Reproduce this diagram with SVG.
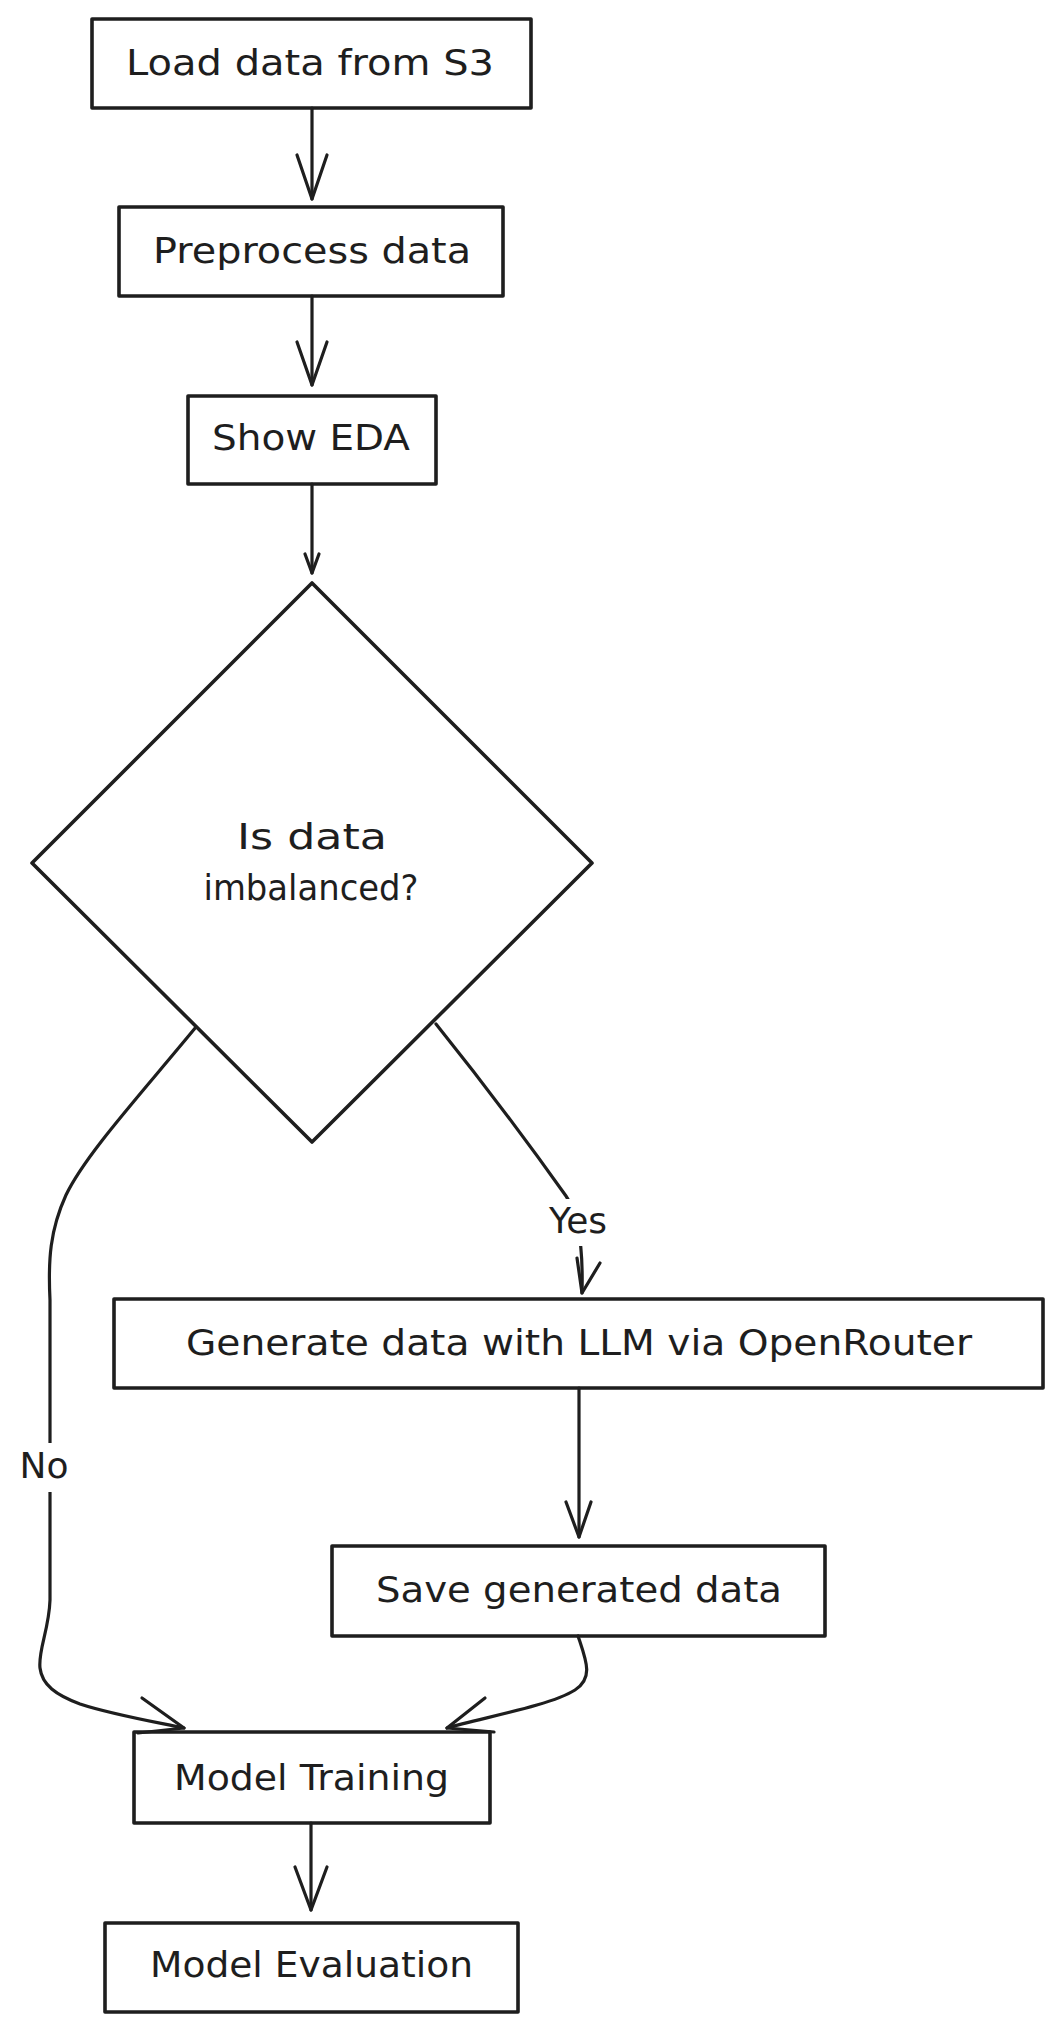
<svg xmlns="http://www.w3.org/2000/svg" width="1062" height="2030" viewBox="0 0 1062 2030">
  <style>
    .bg { fill: #ffffff; }
    .node { fill: #ffffff; stroke: #1e1e1e; stroke-width: 3.6; stroke-linejoin: round; }
    .edge { fill: none; stroke: #1e1e1e; stroke-width: 3.2; stroke-linecap: round; stroke-linejoin: round; }
    .head { fill: none; stroke: #1e1e1e; stroke-width: 3.2; stroke-linecap: round; stroke-linejoin: round; }
    .lbl { fill: #1e1e1e; font-family: "DejaVu Sans", "Noto Sans", sans-serif; font-size: 36px; text-anchor: middle; }
    .lblbg { fill: #ffffff; stroke: none; }
  </style>
  <rect class="bg" x="0" y="0" width="1062" height="2030"/>

  <g id="nodes">
    <g id="load">
      <rect class="node" x="92" y="19" width="439" height="89"/>
      <text class="lbl" x="310" y="75" textLength="368" lengthAdjust="spacingAndGlyphs">Load data from S3</text>
    </g>
    <g id="preprocess">
      <rect class="node" x="119" y="207" width="384" height="89"/>
      <text class="lbl" x="312" y="263" textLength="318" lengthAdjust="spacingAndGlyphs">Preprocess data</text>
    </g>
    <g id="eda">
      <rect class="node" x="188" y="396" width="248" height="88"/>
      <text class="lbl" x="311" y="450" textLength="198" lengthAdjust="spacingAndGlyphs">Show EDA</text>
    </g>
    <g id="decision">
      <polygon class="node" points="312,583 592,863 312,1142 32,863"/>
      <text class="lbl" x="312" y="849" textLength="150" lengthAdjust="spacingAndGlyphs">Is data</text>
      <text class="lbl" x="311" y="900" textLength="215" lengthAdjust="spacingAndGlyphs">imbalanced?</text>
    </g>
    <g id="generate">
      <rect class="node" x="114" y="1299" width="929" height="89"/>
      <text class="lbl" x="579" y="1355" textLength="786" lengthAdjust="spacingAndGlyphs">Generate data with LLM via OpenRouter</text>
    </g>
    <g id="save">
      <rect class="node" x="332" y="1546" width="493" height="90"/>
      <text class="lbl" x="579" y="1602" textLength="406" lengthAdjust="spacingAndGlyphs">Save generated data</text>
    </g>
    <g id="training">
      <rect class="node" x="134" y="1732" width="356" height="91"/>
      <text class="lbl" x="311.5" y="1790" textLength="275" lengthAdjust="spacingAndGlyphs">Model Training</text>
    </g>
    <g id="evaluation">
      <rect class="node" x="105" y="1923" width="413" height="89"/>
      <text class="lbl" x="311.5" y="1977" textLength="323" lengthAdjust="spacingAndGlyphs">Model Evaluation</text>
    </g>
  </g>

  <g id="connectors">
    <!-- Load -> Preprocess -->
    <path class="edge" d="M312,108 L312,199"/>
    <path class="head" d="M297,155 L312,199 L327,155"/>
    <!-- Preprocess -> EDA -->
    <path class="edge" d="M312,296 L312,385"/>
    <path class="head" d="M297,342 L312,385 L327,342"/>
    <!-- EDA -> Decision -->
    <path class="edge" d="M312,484 L312,573"/>
    <path class="head" d="M305,554 L312,573 L319,554"/>
    <!-- Decision -> Generate (Yes) -->
    <path class="edge" d="M436,1024 Q505,1110 566,1196 Q584,1222 582,1293"/>
    <path class="head" d="M577,1258 L582,1293 L600,1263"/>
    <rect class="lblbg" x="543" y="1199" width="70" height="47"/>
    <text class="lbl" x="578" y="1233">Yes</text>
    <!-- Decision -> Model Training (No) -->
    <path class="edge" d="M196,1027 C140,1095 85,1155 66,1195 C50,1230 48,1260 50,1300 L50,1600 C49,1630 38,1650 40,1668 C42,1685 56,1695 80,1704 C110,1714 150,1721 184,1728"/>
    <path class="head" d="M142,1698 L184,1728 L138,1733"/>
    <rect class="lblbg" x="16" y="1443" width="56" height="49"/>
    <text class="lbl" x="44" y="1478">No</text>
    <!-- Generate -> Save -->
    <path class="edge" d="M579,1388 L579,1537"/>
    <path class="head" d="M566,1502 L579,1537 L591,1502"/>
    <!-- Save -> Model Training -->
    <path class="edge" d="M578,1636 C586,1660 594,1678 575,1690 C550,1706 480,1718 447,1728"/>
    <path class="head" d="M485,1698 L447,1728 L494,1732"/>
    <!-- Model Training -> Model Evaluation -->
    <path class="edge" d="M311,1823 L311,1910"/>
    <path class="head" d="M295,1867 L311,1910 L327,1867"/>
  </g>
</svg>
